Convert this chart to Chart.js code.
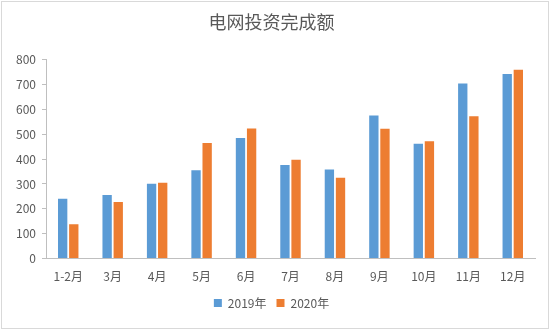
<!DOCTYPE html>
<html>
<head>
<meta charset="utf-8">
<script src="https://cdn.jsdelivr.net/npm/chart.js@4"></script>
<style>
  html, body { margin: 0; padding: 0; background: #fff; }
  #wrap { position: relative; width: 546px; height: 326px; border: 1px solid #d9d9d9; margin: 1px 0 0 1px; }
</style>
</head>
<body>
<div id="wrap"><canvas id="myChart"></canvas></div>
<script>
// grid investment, monthly, 2019 vs 2020
const months = ['1-2月', '3月', '4月', '5月', '6月', '7月', '8月', '9月', '10月', '11月', '12月'];
const values2019 = [241, 256, 301, 355, 485, 376, 358, 575, 462, 704, 742];
const values2020 = [138, 228, 305, 465, 523, 397, 325, 522, 472, 572, 759];
const yTicks = [0, 100, 200, 300, 400, 500, 600, 700, 800];

const font = "'Noto Sans CJK SC', 'Noto Sans', sans-serif";
const axisColor = '#bfbfbf';
const textColor = '#595959';

document.addEventListener("DOMContentLoaded", function () {
    const ctx = document.getElementById('myChart').getContext('2d');

    new Chart(ctx, {
        type: 'bar',
        data: {
            labels: months,
            datasets: [{
                label: '2019年',
                data: values2019,
                backgroundColor: '#5B9BD5',
                categoryPercentage: 0.5,
                barPercentage: 0.84
            }, {
                label: '2020年',
                data: values2020,
                backgroundColor: '#ED7D31',
                categoryPercentage: 0.5,
                barPercentage: 0.84
            }]
        },
        options: {
            responsive: true,
            maintainAspectRatio: false,
            animation: false,
            layout: {
                padding: { left: 6, right: 13, top: 8, bottom: 9 }
            },
            plugins: {
                title: {
                    display: true,
                    text: '电网投资完成额',
                    color: textColor,
                    font: { family: font, size: 18, weight: 'normal' },
                    padding: { top: 1, bottom: 27 }
                },
                legend: {
                    position: 'bottom',
                    labels: {
                        color: textColor,
                        font: { family: font, size: 12 },
                        boxWidth: 8,
                        boxHeight: 8,
                        padding: 10
                    }
                },
                tooltip: { enabled: false }
            },
            scales: {
                x: {
                    grid: { display: false },
                    border: { color: axisColor, width: 1 },
                    ticks: { color: textColor, font: { family: font, size: 12 }, padding: 3 }
                },
                y: {
                    min: 0,
                    max: 800,
                    afterBuildTicks: function (axis) {
                        axis.ticks = yTicks.map(v => ({ value: v }));
                    },
                    afterFit: function (axis) {
                        axis.width = 38;
                    },
                    grid: { drawOnChartArea: false, drawTicks: true, tickLength: 4, color: axisColor },
                    border: { color: axisColor, width: 1 },
                    ticks: { color: textColor, font: { family: font, size: 12 }, padding: 6 }
                }
            }
        }
    });
});
</script>
</body>
</html>
